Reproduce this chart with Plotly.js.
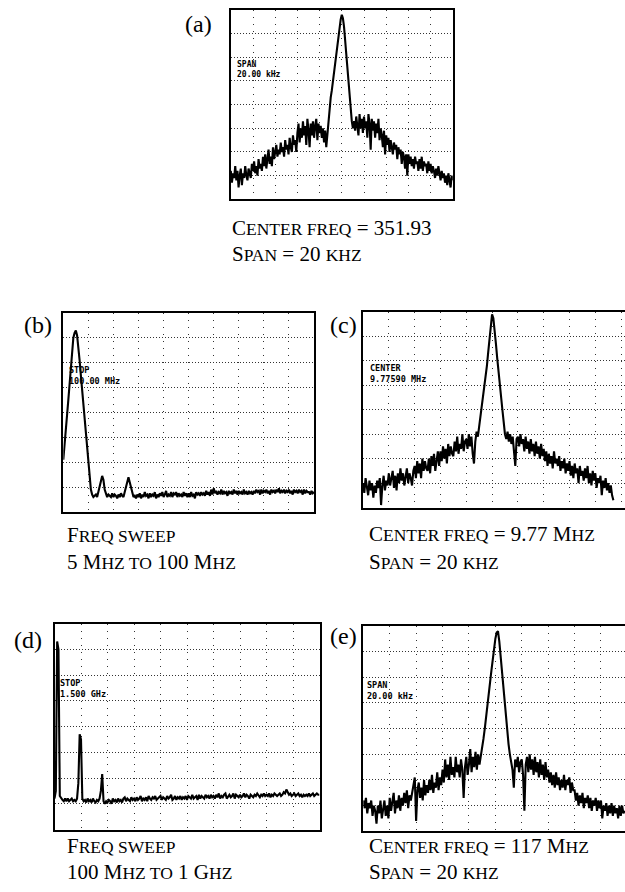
<!DOCTYPE html>
<html>
<head>
<meta charset="utf-8">
<script src="https://cdn.plot.ly/plotly-3.0.1.min.js"></script>
<style>html,body{margin:0;padding:0;background:#fff;}#chart{width:625px;height:892px;}</style>
</head>
<body>
<div id="chart"></div>
<script>
// Screen readings in graticule divisions (x: 0-10 across, y: 0-8 up), sampled every 0.05 division
const sweepStep = 0.05;

// (a) center 351.93, span 20 kHz
const traceA = [
  1.2,0.7,1.1,0.9,1.4,0.8,1.2,0.5,1.0,1.3,
  0.6,1.1,0.9,1.4,1.0,0.8,1.3,1.1,0.9,1.5,
  1.2,1.6,1.1,1.4,1.0,1.7,1.3,1.5,1.2,1.8,
  1.4,1.9,1.3,1.7,2.1,1.5,1.8,1.4,2.2,1.7,
  2.0,2.3,1.8,2.1,1.9,2.4,2.0,2.2,1.8,2.5,
  2.1,2.3,1.9,2.6,2.2,2.0,2.7,2.3,2.5,2.0,
  2.8,3.2,2.4,3.0,2.6,3.3,2.7,3.1,2.3,3.4,
  2.9,2.2,3.2,2.7,3.3,2.6,3.1,3.4,2.5,3.2,
  2.8,3.1,2.6,3.0,2.4,2.9,2.2,2.8,3.2,3.6,
  4.3,4.6,5.0,5.35,5.7,6.0,6.35,6.75,7.2,7.6,
  7.8,7.65,7.3,6.7,6.0,5.5,5.1,4.5,3.8,3.3,
  3.0,3.3,2.9,3.5,3.1,2.7,3.6,3.0,3.4,2.8,
  3.5,3.0,3.3,2.6,3.6,3.2,2.1,3.4,2.9,3.3,
  2.6,3.2,2.8,3.4,2.5,3.0,2.7,2.2,2.9,1.9,
  2.7,2.3,2.6,2.0,2.5,2.2,1.9,2.4,2.1,2.3,
  1.7,2.2,1.9,2.1,1.5,2.0,1.8,1.3,1.9,1.0,
  1.9,1.5,1.8,1.4,1.7,1.3,1.8,1.5,1.6,1.2,
  1.7,1.3,1.8,1.2,1.6,1.4,1.5,1.1,1.6,1.2,
  1.5,1.1,1.4,1.2,0.9,1.3,1.0,1.4,1.1,0.8,
  1.2,0.9,1.1,0.7,1.0,0.6,1.1,0.8,0.5,1.0,
  0.8];

// (b) sweep 5 MHz to 100 MHz
const traceB = [
  2.1,2.6,3.2,3.9,4.5,5.2,5.8,6.4,7.0,7.2,
  7.3,7.1,6.7,6.1,5.5,4.9,4.3,3.6,3.0,2.4,
  1.9,1.3,0.9,0.7,0.6,0.65,0.7,0.6,0.8,1.0,
  1.3,1.45,1.3,0.9,0.75,0.6,0.7,0.65,0.6,0.75,
  0.6,0.7,0.65,0.55,0.7,0.6,0.75,0.65,0.6,0.8,
  1.0,1.25,1.4,1.2,0.95,0.7,0.6,0.65,0.55,0.7,
  0.6,0.75,0.55,0.7,0.6,0.8,0.65,0.7,0.55,0.75,
  0.6,0.7,0.65,0.8,0.55,0.7,0.6,0.75,0.65,0.8,
  0.6,0.7,0.85,0.6,0.7,0.65,0.8,0.6,0.75,0.7,
  0.8,0.6,0.75,0.65,0.7,0.6,0.8,0.65,0.75,0.6,
  0.75,0.6,0.8,0.65,0.7,0.55,0.8,0.7,0.75,0.65,
  0.8,0.7,0.75,0.65,0.85,0.7,0.8,0.65,0.9,0.7,
  0.95,0.75,0.85,0.7,0.8,0.75,0.9,0.7,0.85,0.75,
  0.8,0.65,0.85,0.75,0.8,0.7,0.9,0.75,0.85,0.7,
  0.85,0.75,0.8,0.7,0.9,0.75,0.8,0.7,0.85,0.75,
  0.8,0.7,0.85,0.75,0.9,0.8,0.85,0.7,0.9,0.75,
  0.85,0.8,0.9,0.75,0.85,0.7,0.9,0.8,0.85,0.75,
  0.9,0.8,0.95,0.75,0.85,0.8,0.9,0.75,0.85,0.8,
  0.9,0.75,0.85,0.7,0.9,0.8,0.85,0.75,0.9,0.8,
  0.85,0.7,0.9,0.75,0.85,0.8,0.8,0.7,0.85,0.75,
  0.8];

// (c) center 9.77 MHz, span 20 kHz
const traceC = [
  1.0,0.6,1.2,0.8,0.5,1.1,0.7,1.0,0.4,0.9,
  0.6,1.1,0.8,1.2,0.1,0.9,1.3,0.7,1.1,0.9,
  1.4,0.9,1.2,1.5,0.8,1.3,0.7,1.4,1.0,1.6,
  1.1,1.4,0.9,1.3,1.6,1.0,1.4,1.2,0.9,1.5,
  1.7,1.2,1.9,1.4,1.8,1.2,2.0,1.5,1.9,1.6,
  1.5,2.0,1.4,2.1,1.7,2.2,1.5,1.9,2.3,1.7,
  2.3,1.9,2.5,2.0,2.4,1.8,2.6,2.1,2.5,2.2,
  2.1,2.7,2.3,2.9,2.2,2.6,2.4,3.0,2.3,2.7,
  2.8,2.4,3.0,2.5,2.9,2.2,1.8,2.7,3.1,2.9,
  3.3,3.7,4.1,4.5,4.9,5.3,5.8,6.35,6.95,7.5,
  7.9,7.75,7.3,6.7,6.1,5.5,5.0,4.5,4.0,3.5,
  3.0,2.8,3.1,2.7,3.0,2.6,2.9,2.3,1.7,2.8,
  2.9,2.5,3.0,2.6,2.8,2.3,2.9,2.4,2.7,2.2,
  2.8,2.3,2.6,2.1,2.7,2.2,2.5,2.0,2.6,2.1,
  2.4,1.9,2.3,1.7,2.2,1.8,2.1,1.6,2.3,1.8,
  2.0,1.7,2.1,1.5,1.9,1.6,2.0,1.4,1.8,1.5,
  1.9,1.3,1.7,1.2,1.8,1.4,1.6,1.0,1.7,1.3,
  1.5,1.1,1.6,1.2,1.7,1.0,1.4,0.9,1.5,1.1,
  1.4,0.8,1.2,1.0,1.3,0.5,1.1,0.8,1.2,0.7,
  1.0,0.6,0.9,0.5,0.3];

// (d) sweep 100 MHz to 1 GHz
const traceD = [
  1.2,1.5,7.3,7.0,1.3,1.2,1.15,1.1,1.2,1.1,
  1.2,1.1,1.15,1.2,1.1,1.15,1.1,1.2,1.8,3.7,
  3.5,1.2,1.1,1.15,1.05,1.2,1.1,1.15,1.05,1.2,
  1.1,1.05,1.15,1.1,1.2,1.5,2.15,1.1,1.0,1.1,
  1.05,1.15,1.1,1.0,1.2,1.1,1.15,1.05,1.2,1.1,
  1.15,1.05,1.2,1.25,1.1,1.2,1.15,1.1,1.25,1.15,
  1.2,1.1,1.25,1.15,1.2,1.3,1.1,1.2,1.15,1.25,
  1.1,1.3,1.2,1.15,1.25,1.2,1.3,1.15,1.2,1.25,
  1.3,1.15,1.25,1.2,1.15,1.3,1.2,1.25,1.35,1.15,
  1.2,1.3,1.15,1.25,1.2,1.3,1.15,1.25,1.2,1.3,
  1.15,1.3,1.25,1.2,1.35,1.2,1.25,1.3,1.15,1.35,
  1.2,1.3,1.25,1.2,1.35,1.25,1.3,1.2,1.35,1.25,
  1.3,1.2,1.35,1.25,1.4,1.2,1.3,1.25,1.35,1.4,
  1.2,1.3,1.35,1.25,1.3,1.4,1.2,1.35,1.3,1.25,
  1.35,1.25,1.3,1.4,1.25,1.35,1.3,1.2,1.35,1.3,
  1.25,1.35,1.3,1.4,1.3,1.25,1.35,1.3,1.4,1.3,
  1.35,1.3,1.4,1.25,1.35,1.3,1.4,1.35,1.3,1.35,
  1.4,1.3,1.35,1.45,1.4,1.55,1.45,1.35,1.4,1.3,
  1.35,1.4,1.3,1.35,1.4,1.3,1.35,1.25,1.35,1.3,
  1.35,1.3,1.4,1.3,1.35,1.4,1.3,1.35,1.4,1.35,
  1.35];

// (e) center 117 MHz, span 20 kHz
const traceE = [
  1.2,0.9,1.3,0.7,1.1,0.9,1.2,0.6,1.0,0.8,
  0.3,1.0,0.7,1.2,0.5,0.9,1.2,0.6,1.0,0.5,
  1.3,0.8,1.1,1.5,0.7,1.2,0.9,1.4,0.8,1.3,
  1.0,1.5,1.1,1.6,0.9,1.4,1.2,1.5,1.8,2.1,
  0.4,1.6,1.9,1.3,1.7,1.2,2.0,1.4,1.8,1.5,
  2.0,1.6,2.2,1.5,1.9,1.7,2.3,1.6,2.1,1.8,
  2.4,1.9,2.8,2.1,2.6,2.0,2.9,2.2,2.5,2.1,
  2.9,2.3,2.6,2.1,2.8,2.4,1.3,2.5,2.9,2.2,
  2.6,3.2,2.3,2.9,2.5,3.1,2.4,3.0,2.6,2.9,
  3.3,3.6,4.0,4.4,4.8,5.3,5.8,6.25,6.7,7.1,
  7.5,7.75,7.8,7.4,6.8,6.2,5.6,5.0,4.5,3.95,
  3.4,3.0,2.7,2.4,1.7,2.8,2.5,2.9,2.3,2.7,
  2.8,2.2,0.8,2.6,2.9,2.3,3.0,2.4,2.8,2.2,
  2.9,2.3,2.7,2.1,2.8,2.2,2.6,2.0,2.7,2.1,
  2.4,1.9,2.3,1.8,2.2,1.7,2.3,1.8,2.1,1.6,
  2.0,1.7,2.2,1.6,2.0,1.8,2.1,1.5,1.9,1.6,
  1.6,1.2,1.5,1.0,1.4,1.1,1.5,0.9,1.3,1.1,
  1.4,0.9,1.3,0.8,1.2,1.0,1.3,0.8,1.2,0.9,
  1.2,0.5,1.0,0.8,1.1,0.6,1.0,0.7,1.1,0.6,
  1.0,0.7,0.9,0.5,1.0,0.6,1.0,0.7,0.8];

const screenLabels = ['SPAN<br>20.00 kHz','STOP<br>100.00 MHz','CENTER<br>9.77590 MHz','STOP<br>1.500 GHz','SPAN<br>20.00 kHz'];
const panelLetters = ['(a)','(b)','(c)','(d)','(e)'];

const SC = (t) => '<span style="font-size:17.5px">' + t + '</span>';
const captionLines = [
  ['C' + SC('ENTER FREQ') + ' = 351.93', 'S' + SC('PAN') + ' = 20 ' + SC('KHZ')],
  ['F' + SC('REQ SWEEP'), '5 M' + SC('HZ TO') + ' 100 M' + SC('HZ')],
  ['C' + SC('ENTER FREQ') + ' = 9.77 M' + SC('HZ'), 'S' + SC('PAN') + ' = 20 ' + SC('KHZ')],
  ['F' + SC('REQ SWEEP'), '100 M' + SC('HZ TO') + ' 1 G' + SC('HZ')],
  ['C' + SC('ENTER FREQ') + ' = 117 M' + SC('HZ'), 'S' + SC('PAN') + ' = 20 ' + SC('KHZ')]
];

const W = 625, H = 892;
const px = v => v / W;
const py = v => 1 - v / H;

// panel frames in pixels: [left, right, top, bottom], x range max
const frames = [
  {l:230.8, r:452.8, t:10, b:199.3, xmax:10, rightEdge:true},
  {l:63.3, r:314, t:313, b:512, xmax:10, rightEdge:true},
  {l:363, r:625, t:312, b:507.5, xmax:10.15, rightEdge:false},
  {l:54.5, r:319.5, t:623.5, b:829.5, xmax:10, rightEdge:true},
  {l:363.3, r:625, t:626, b:831.3, xmax:9.91, rightEdge:false}
];
const labelPos = [[183,24],[22,325],[328,325],[12,640],[328,636]];
const captionPos = [[230,228,254],[65,535,562],[367,534,562],[65,846,872],[367,846,872]];
const screenFont = [8,8.5,8.5,8.5,8.5];
const screenX = [0.19,0.15,0.19,0.12,0.08];

const series = [traceA, traceB, traceC, traceD, traceE];
const data = series.map((ys, i) => ({
  x: ys.map((_, k) => +(k * sweepStep).toFixed(3)),
  y: ys,
  type: 'scatter', mode: 'lines',
  line: {color: '#000', width: 2.1},
  xaxis: 'x' + (i ? i + 1 : ''), yaxis: 'y' + (i ? i + 1 : ''),
  hoverinfo: 'skip', showlegend: false
}));

const layout = {
  width: W, height: H,
  margin: {l:0, r:0, t:0, b:0},
  paper_bgcolor: '#fff', plot_bgcolor: '#fff',
  showlegend: false,
  annotations: []
};

frames.forEach((f, i) => {
  const s = i ? String(i + 1) : '';
  layout['xaxis' + s] = {
    domain: [px(f.l), Math.min(1, px(f.r))], range: [0, f.xmax],
    anchor: 'y' + s, tick0: 0, dtick: 1,
    showgrid: true, gridcolor: '#333', gridwidth: 1, griddash: '1px,6px',
    showline: true, linecolor: '#000', linewidth: 2, mirror: true,
    zeroline: false, showticklabels: false, ticks: '', fixedrange: true
  };
  layout['yaxis' + s] = {
    domain: [py(f.b), py(f.t)], range: [0, 8],
    anchor: 'x' + s, tick0: 0, dtick: 1,
    showgrid: true, gridcolor: '#333', gridwidth: 1, griddash: '1px,2px',
    showline: true, linecolor: '#000', linewidth: 2, mirror: f.rightEdge,
    zeroline: false, showticklabels: false, ticks: '', fixedrange: true
  };
  layout.annotations.push({
    xref: 'x' + s, yref: 'y' + s, x: screenX[i], y: 5.48,
    xanchor: 'left', yanchor: 'middle', align: 'left', showarrow: false,
    text: '<b>' + screenLabels[i] + '</b>',
    font: {family: 'DejaVu Sans Mono', size: screenFont[i], color: '#000'}
  });
  layout.annotations.push({
    xref: 'paper', yref: 'paper', x: px(labelPos[i][0]), y: py(labelPos[i][1]),
    xanchor: 'left', yanchor: 'middle', showarrow: false,
    text: panelLetters[i],
    font: {family: 'Liberation Serif', size: 24, color: '#000'}
  });
  captionLines[i].forEach((t, j) => {
    layout.annotations.push({
      xref: 'paper', yref: 'paper', x: px(captionPos[i][0]), y: py(captionPos[i][j + 1]),
      xanchor: 'left', yanchor: 'middle', align: 'left', showarrow: false,
      text: t,
      font: {family: 'Liberation Serif', size: 21, color: '#000'}
    });
  });
});

Plotly.newPlot('chart', data, layout, {displayModeBar: false, staticPlot: true});
</script>
</body>
</html>
